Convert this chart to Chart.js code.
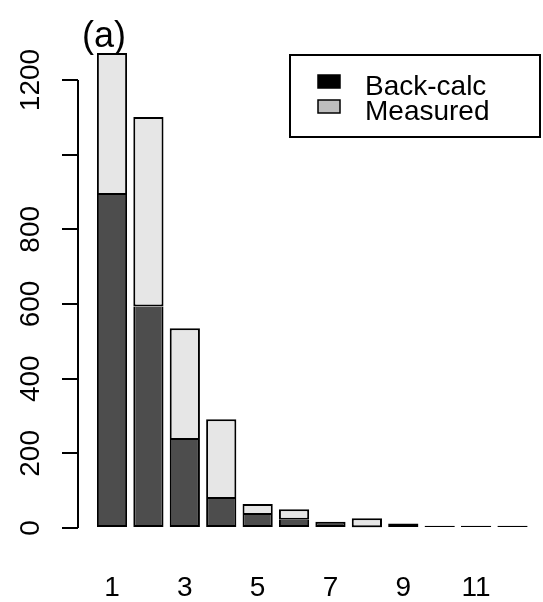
<!DOCTYPE html>
<html>
<head>
<meta charset="utf-8">
<script src="https://cdn.jsdelivr.net/npm/chart.js@4/dist/chart.umd.min.js"></script>
<style>
  html, body { margin: 0; padding: 0; background: #fff; }
  #wrap { width: 543px; height: 602px; position: relative; }
</style>
</head>
<body>
<div id="wrap"><canvas id="chart"></canvas></div>
<script>
// data
const categories = [1, 2, 3, 4, 5, 6, 7, 8, 9, 10, 11, 12];
const backCalc = [892, 593, 236, 78, 35, 22, 17, 2, 12, 6, 6, 6];
const measuredExtra = [380, 508, 299, 213, 29, 28, 0, 24, 0, 0, 0, 0];
const seriesNames = ["Back-calc", "Measured"];
const yTicks = [0, 200, 400, 600, 800, 1000, 1200];
const yTickLabels = ["0", "200", "400", "600", "800", "", "1200"];
const xTicks = [1, 3, 5, 7, 9, 11];
const panelLabel = "(a)";

const FONT = "'Liberation Sans', Arial, sans-serif";

const extras = {
  id: "extras",
  afterDraw(chart) {
    const ctx = chart.ctx;
    const y = chart.scales.y;
    const left = chart.chartArea.left;
    ctx.save();
    // y axis line, only over the tick range
    ctx.strokeStyle = "#000";
    ctx.lineWidth = 2;
    ctx.beginPath();
    ctx.moveTo(left, y.getPixelForValue(yTicks[0]));
    ctx.lineTo(left, y.getPixelForValue(yTicks[yTicks.length - 1]));
    ctx.stroke();
    // rotated y tick labels
    ctx.fillStyle = "#000";
    ctx.font = "28px " + FONT;
    ctx.textAlign = "center";
    ctx.textBaseline = "middle";
    yTicks.forEach((v, i) => {
      if (!yTickLabels[i]) return;
      ctx.save();
      ctx.translate(31, y.getPixelForValue(v));
      ctx.rotate(-Math.PI / 2);
      ctx.fillText(yTickLabels[i], 0, 0);
      ctx.restore();
    });
    // panel label
    ctx.font = "36px " + FONT;
    ctx.textBaseline = "alphabetic";
    ctx.fillText(panelLabel, 104, 47);
    // legend box
    ctx.lineWidth = 2;
    ctx.strokeRect(290, 55, 250, 82);
    const sw = ["#000000", "#bebebe"];
    ctx.font = "28px " + FONT;
    ctx.textAlign = "left";
    seriesNames.forEach((name, i) => {
      const base = 95 + i * 25;
      ctx.fillStyle = sw[i];
      ctx.fillRect(318, base - 20, 22, 13);
      ctx.strokeStyle = "#000";
      ctx.lineWidth = 1.5;
      ctx.strokeRect(318, base - 20, 22, 13);
      ctx.fillStyle = "#000";
      ctx.fillText(name, 365, base);
    });
    ctx.restore();
  }
};

new Chart(document.getElementById("chart"), {
  type: "bar",
  data: {
    datasets: [
      {
        label: seriesNames[0],
        data: categories.map((c, i) => ({ x: c, y: backCalc[i] })),
        backgroundColor: "#4d4d4d",
        borderColor: "#000",
        borderWidth: 2,
        // the segment above draws the shared edge
        borderSkipped: ctx => measuredExtra[ctx.dataIndex] > 0 ? "top" : false,
        barPercentage: 0.83,
        categoryPercentage: 1
      },
      {
        label: seriesNames[1],
        data: categories.map((c, i) => ({ x: c, y: measuredExtra[i] })),
        backgroundColor: "#e6e6e6",
        borderColor: "#000",
        borderWidth: 2,
        borderSkipped: false,
        barPercentage: 0.83,
        categoryPercentage: 1
      }
    ]
  },
  options: {
    responsive: true,
    maintainAspectRatio: false,
    animation: false,
    layout: { padding: { top: 20, right: 5, left: 0, bottom: 0 } },
    plugins: { legend: { display: false }, tooltip: { enabled: false } },
    scales: {
      x: {
        type: "linear",
        stacked: true,
        offset: false,
        min: 0.066,
        max: 12.7,
        grid: { display: false, drawTicks: false },
        border: { display: false },
        afterBuildTicks: s => { s.ticks = xTicks.map(v => ({ value: v })); },
        afterFit: s => { s.height = 57; },
        ticks: {
          padding: 26,
          color: "#000",
          font: { family: FONT, size: 28 },
          maxRotation: 0,
          autoSkip: false,
          callback: v => String(v)
        }
      },
      y: {
        stacked: true,
        min: -45.5,
        max: 1360.7,
        afterBuildTicks: s => { s.ticks = yTicks.map(v => ({ value: v })); },
        afterFit: s => { s.width = 78; },
        border: { display: false },
        grid: {
          drawOnChartArea: false,
          drawTicks: true,
          tickLength: 16,
          color: "#000",
          lineWidth: 2
        },
        ticks: { display: false }
      }
    }
  },
  plugins: [extras]
});
</script>
</body>
</html>
